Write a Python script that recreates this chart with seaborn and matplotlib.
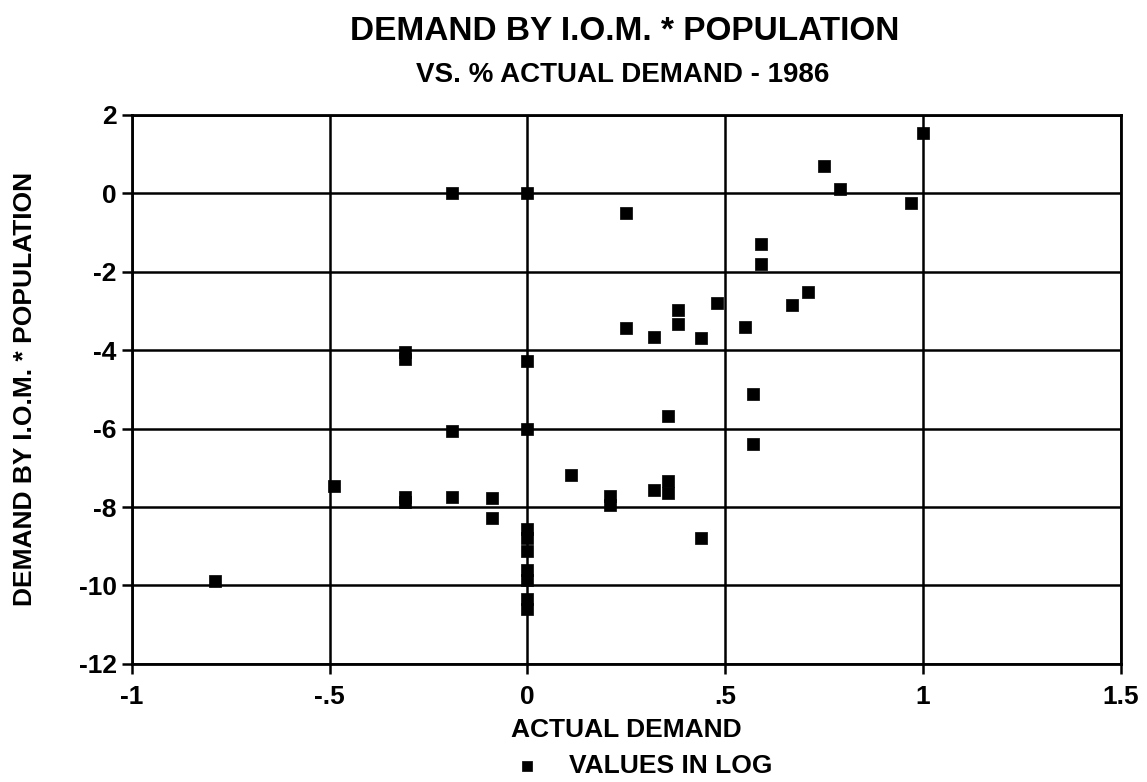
import pandas as pd
import seaborn as sns
import matplotlib.pyplot as plt

# values (both already in log)
actual_demand = [-0.79, -0.49, -0.31, -0.31, -0.31, -0.31, -0.19, -0.19, -0.19,
                 -0.09, -0.09, 0, 0, 0, 0, 0, 0, 0, 0, 0, 0,
                 0.11, 0.21, 0.21, 0.25, 0.25, 0.32, 0.32, 0.355, 0.355, 0.355,
                 0.38, 0.38, 0.44, 0.44, 0.48, 0.55, 0.57, 0.57, 0.59, 0.59,
                 0.67, 0.71, 0.75, 0.79, 0.97, 1.0]
demand_iom_pop = [-9.88, -7.47, -4.05, -4.22, -7.75, -7.87, 0.0, -6.05, -7.74,
                  -7.78, -8.27, 0.0, -4.28, -6.0, -8.55, -8.8, -9.12, -9.6, -9.85, -10.35, -10.6,
                  -7.17, -7.72, -7.95, -0.5, -3.43, -3.67, -7.57, -5.67, -7.34, -7.65,
                  -2.98, -3.33, -3.7, -8.8, -2.8, -3.4, -5.12, -6.4, -1.3, -1.8,
                  -2.85, -2.52, 0.7, 0.12, -0.25, 1.55]

x_ticks = [-1, -0.5, 0, 0.5, 1, 1.5]
x_tick_labels = ["-1", "-.5", "0", ".5", "1", "1.5"]
y_ticks = [2, 0, -2, -4, -6, -8, -10, -12]
y_tick_labels = ["2", "0", "-2", "-4", "-6", "-8", "-10", "-12"]

df = pd.DataFrame({"x": actual_demand, "y": demand_iom_pop})

sns.set_style("white")
plt.rcParams["font.family"] = ["Liberation Sans", "DejaVu Sans"]
plt.rcParams["font.weight"] = "bold"
plt.rcParams["text.color"] = "black"
plt.rcParams["axes.labelcolor"] = "black"
plt.rcParams["xtick.color"] = "black"
plt.rcParams["ytick.color"] = "black"
plt.rcParams["xtick.bottom"] = True
plt.rcParams["ytick.left"] = True

fig = plt.figure(figsize=(11.47, 7.82), dpi=100)
ax = fig.add_axes([0.115, 0.151, 0.862, 0.702])

sns.scatterplot(data=df, x="x", y="y", marker="s", s=80, color="black",
                edgecolor="black", linewidth=0.5, label="VALUES IN LOG", ax=ax, zorder=3)

ax.set_xlim(-1, 1.5)
ax.set_ylim(-12, 2)
ax.set_xticks(x_ticks)
ax.set_xticklabels(x_tick_labels, fontsize=19, fontweight="bold")
ax.set_yticks(y_ticks)
ax.set_yticklabels(y_tick_labels, fontsize=19, fontweight="bold")
ax.tick_params(direction="out", length=7, width=1.8, color="black")
ax.tick_params(axis="x", pad=8)
ax.tick_params(axis="y", pad=4)
ax.grid(True, color="black", linewidth=1.8)
ax.set_axisbelow(True)
for sp in ax.spines.values():
    sp.set_color("black")
    sp.set_linewidth(2)

ax.set_xlabel("ACTUAL DEMAND", fontsize=19, fontweight="bold", labelpad=7)
ax.set_ylabel("DEMAND BY I.O.M. * POPULATION", fontsize=19, fontweight="bold", labelpad=30)

fig.text(0.545, 0.96, "DEMAND BY I.O.M. * POPULATION", ha="center", va="center",
         fontsize=24, fontweight="bold")
fig.text(0.543, 0.904, "VS. % ACTUAL DEMAND - 1986", ha="center", va="center",
         fontsize=20, fontweight="bold")

ax.legend(loc="upper center", bbox_to_anchor=(0.51, -0.12), frameon=False,
          prop={"size": 19, "weight": "bold"}, handletextpad=0.6, markerscale=0.8)

plt.savefig("out.png", dpi=100)
